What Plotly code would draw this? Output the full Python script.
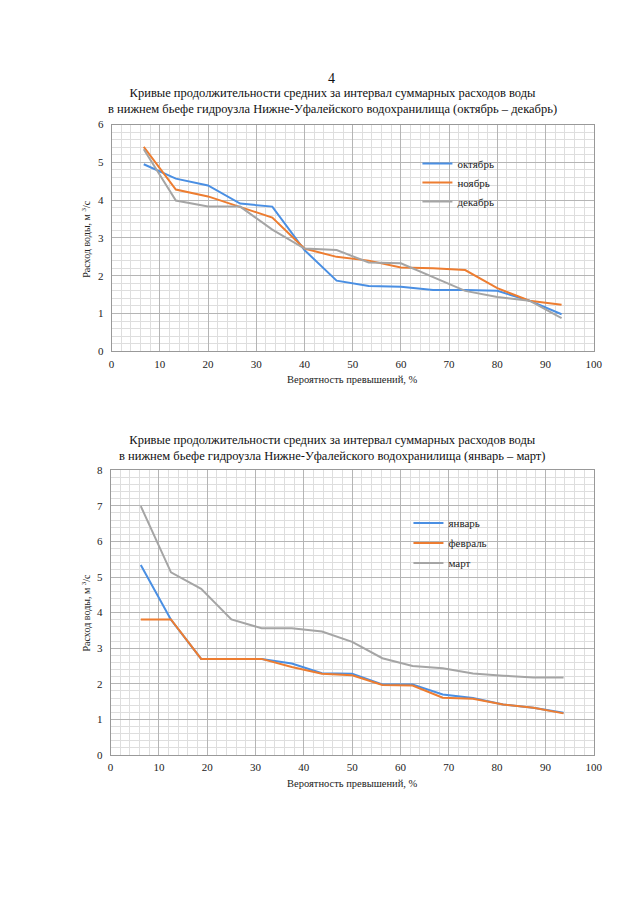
import plotly.graph_objects as go

# ---- data: top chart (October - December) ----
p_top = [6.67, 13.33, 20.0, 26.67, 33.33, 40.0, 46.67, 53.33, 60.0, 66.67, 73.33, 80.0, 86.67, 93.33]
oct_q = [4.95, 4.57, 4.39, 3.91, 3.83, 2.68, 1.87, 1.73, 1.71, 1.62, 1.62, 1.60, 1.34, 0.98]
nov_q = [5.41, 4.28, 4.10, 3.83, 3.54, 2.72, 2.50, 2.40, 2.22, 2.20, 2.15, 1.67, 1.34, 1.23]
dec_q = [5.35, 3.99, 3.83, 3.83, 3.22, 2.72, 2.68, 2.35, 2.33, 1.97, 1.60, 1.44, 1.34, 0.88]

# ---- data: bottom chart (January - March) ----
p_bot = [6.25, 12.5, 18.75, 25.0, 31.25, 37.5, 43.75, 50.0, 56.25, 62.5, 68.75, 75.0, 81.25, 87.5, 93.75]
jan_q = [5.34, 3.80, 2.70, 2.70, 2.70, 2.57, 2.30, 2.28, 1.98, 1.98, 1.70, 1.60, 1.42, 1.33, 1.19]
feb_q = [3.81, 3.81, 2.70, 2.70, 2.70, 2.47, 2.28, 2.24, 1.97, 1.95, 1.61, 1.58, 1.42, 1.33, 1.17]
mar_q = [6.99, 5.13, 4.67, 3.81, 3.56, 3.56, 3.47, 3.18, 2.72, 2.50, 2.44, 2.29, 2.23, 2.18, 2.18]

names_top = ["октябрь", "ноябрь", "декабрь"]
names_bot = ["январь", "февраль", "март"]
colors = ["#4a8fe3", "#ed7d31", "#a5a5a5"]

W, H = 640, 905
SERIF = "Liberation Serif, Times New Roman, serif"
# empirical correction between layout pixels and the photographed page
SC, OFFY = 0.985, 7.3

def px(x):
    return (x / SC) / W

def py(y):
    return 1 - ((y - OFFY) / SC) / H

fig = go.Figure()

for name, q, c in zip(names_top, [oct_q, nov_q, dec_q], colors):
    fig.add_trace(go.Scatter(x=p_top, y=q, name=name, mode="lines",
                             line=dict(color=c, width=2), xaxis="x", yaxis="y",
                             legend="legend"))
for i, (name, q, c) in enumerate(zip(names_bot, [jan_q, feb_q, mar_q], colors)):
    fig.add_trace(go.Scatter(x=p_bot, y=q, name=name, mode="lines",
                             line=dict(color=c, width=2), xaxis="x2", yaxis="y2",
                             legend="legend2", legendgroup=f"b{i}"))

tickfont = dict(family=SERIF, size=11, color="#222")
common_x = dict(range=[0, 100], dtick=10, tick0=0, showgrid=True, gridcolor="#b5b5b5",
                gridwidth=1, zeroline=False, showline=True, linecolor="#999", mirror=True,
                ticks="", tickfont=tickfont, ticklabelstandoff=2,
                minor=dict(dtick=2, showgrid=True, gridcolor="#dedede", gridwidth=1))
common_y = dict(dtick=1, tick0=0, showgrid=True, gridcolor="#b5b5b5", gridwidth=1,
                zeroline=False, showline=True, linecolor="#999", mirror=True,
                ticks="", tickfont=tickfont, ticklabelstandoff=5,
                minor=dict(dtick=0.2, showgrid=True, gridcolor="#dedede", gridwidth=1))

legfont = dict(family=SERIF, size=11, color="#222")
fig.update_layout(
    width=W, height=H, autosize=False,
    margin=dict(l=0, r=0, t=0, b=0),
    paper_bgcolor="white", plot_bgcolor="white",
    xaxis=dict(common_x, domain=[px(109), px(593)], anchor="y"),
    yaxis=dict(common_y, range=[0, 6], domain=[py(352), py(125.7)], anchor="x"),
    xaxis2=dict(common_x, domain=[px(108), px(593)], anchor="y2"),
    yaxis2=dict(common_y, range=[0, 8], domain=[py(755), py(470.7)], anchor="x2"),
    legend=dict(x=px(416), y=py(150), xanchor="left", yanchor="top",
                bgcolor="rgba(0,0,0,0)", font=legfont,
                itemwidth=30, traceorder="normal"),
    legend2=dict(x=px(407), y=py(509), xanchor="left", yanchor="top",
                 bgcolor="rgba(0,0,0,0)", font=legfont,
                 itemwidth=30, tracegroupgap=1, traceorder="grouped"),
    showlegend=True,
)

ann_font = dict(family=SERIF, size=12.5, color="#111")
lab_font = dict(family=SERIF, size=10.5, color="#222")
ylab_font = dict(family=SERIF, size=10, color="#222")
annotations = [
    dict(text="4", x=px(330), y=py(80), font=dict(family=SERIF, size=14, color="#111")),
    dict(text="Кривые продолжительности средних за интервал суммарных расходов воды<br>"
              "в нижнем бьефе гидроузла Нижне-Уфалейского водохранилища (октябрь – декабрь)",
         x=px(331), y=py(102.5), font=ann_font),
    dict(text="Кривые продолжительности средних за интервал суммарных расходов воды<br>"
              "в нижнем бьефе гидроузла Нижне-Уфалейского водохранилища (январь – март)",
         x=px(331), y=py(449), font=ann_font),
    dict(text="Вероятность превышений, %", x=px(351), y=py(380), font=lab_font),
    dict(text="Вероятность превышений, %", x=px(351), y=py(783), font=lab_font),
    dict(text="Расход воды, м <sup>3</sup>/с", x=px(83), y=py(240), textangle=-90, font=ylab_font),
    dict(text="Расход воды, м <sup>3</sup>/с", x=px(83), y=py(613), textangle=-90, font=ylab_font),
]
for a in annotations:
    a.update(xref="paper", yref="paper", showarrow=False, xanchor="center", yanchor="middle")
fig.update_layout(annotations=annotations)

fig.write_html(
    "out.html",
    config={"responsive": False, "displayModeBar": False},
    post_script=("document.body.style.margin='0px';document.body.style.padding='0px';"
                 "document.body.style.overflow='hidden';"
                 "document.documentElement.style.overflow='hidden';"),
)
